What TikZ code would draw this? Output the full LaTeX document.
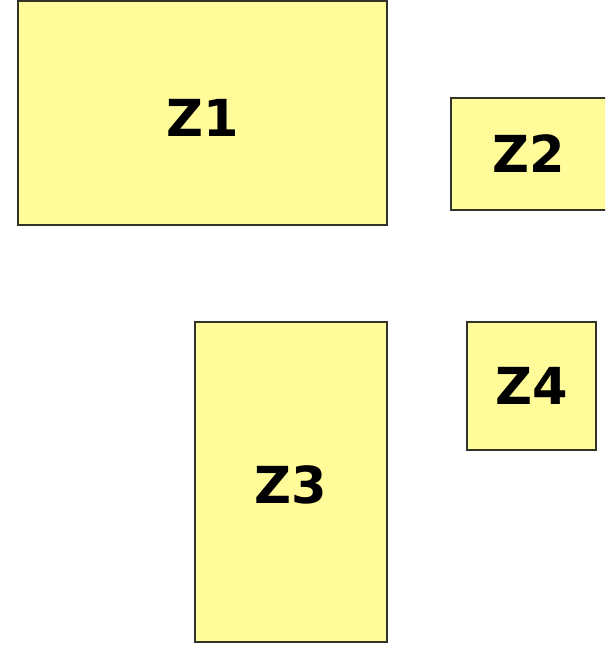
\documentclass[tikz,border=0pt]{standalone}
\usepackage{fontspec}
\setmainfont{DejaVu Sans}
\usepackage{xcolor}
\definecolor{zonefill}{RGB}{255,252,153}
\definecolor{zoneline}{RGB}{50,50,40}
\begin{document}
\begin{tikzpicture}[
  x=1pt, y=-1pt,
  zone/.style={rectangle, draw=zoneline, line width=1.2pt, fill=zonefill,
               inner sep=0pt, font=\fontsize{51}{51}\selectfont\bfseries}
]
  \clip (0,0) rectangle (605,645);
  \node[zone, minimum width=369pt, minimum height=224pt, text height=46pt] (Z1) at (202.5,113) {Z1};
  \node[zone, minimum width=156pt, minimum height=112pt] (Z2) at (529,154) {Z2};
  \node[zone, minimum width=192pt, minimum height=320pt, text height=43pt] (Z3) at (291,482) {Z3};
  \node[zone, minimum width=129pt, minimum height=128pt] (Z4) at (531.5,386) {Z4};
\end{tikzpicture}
\end{document}
